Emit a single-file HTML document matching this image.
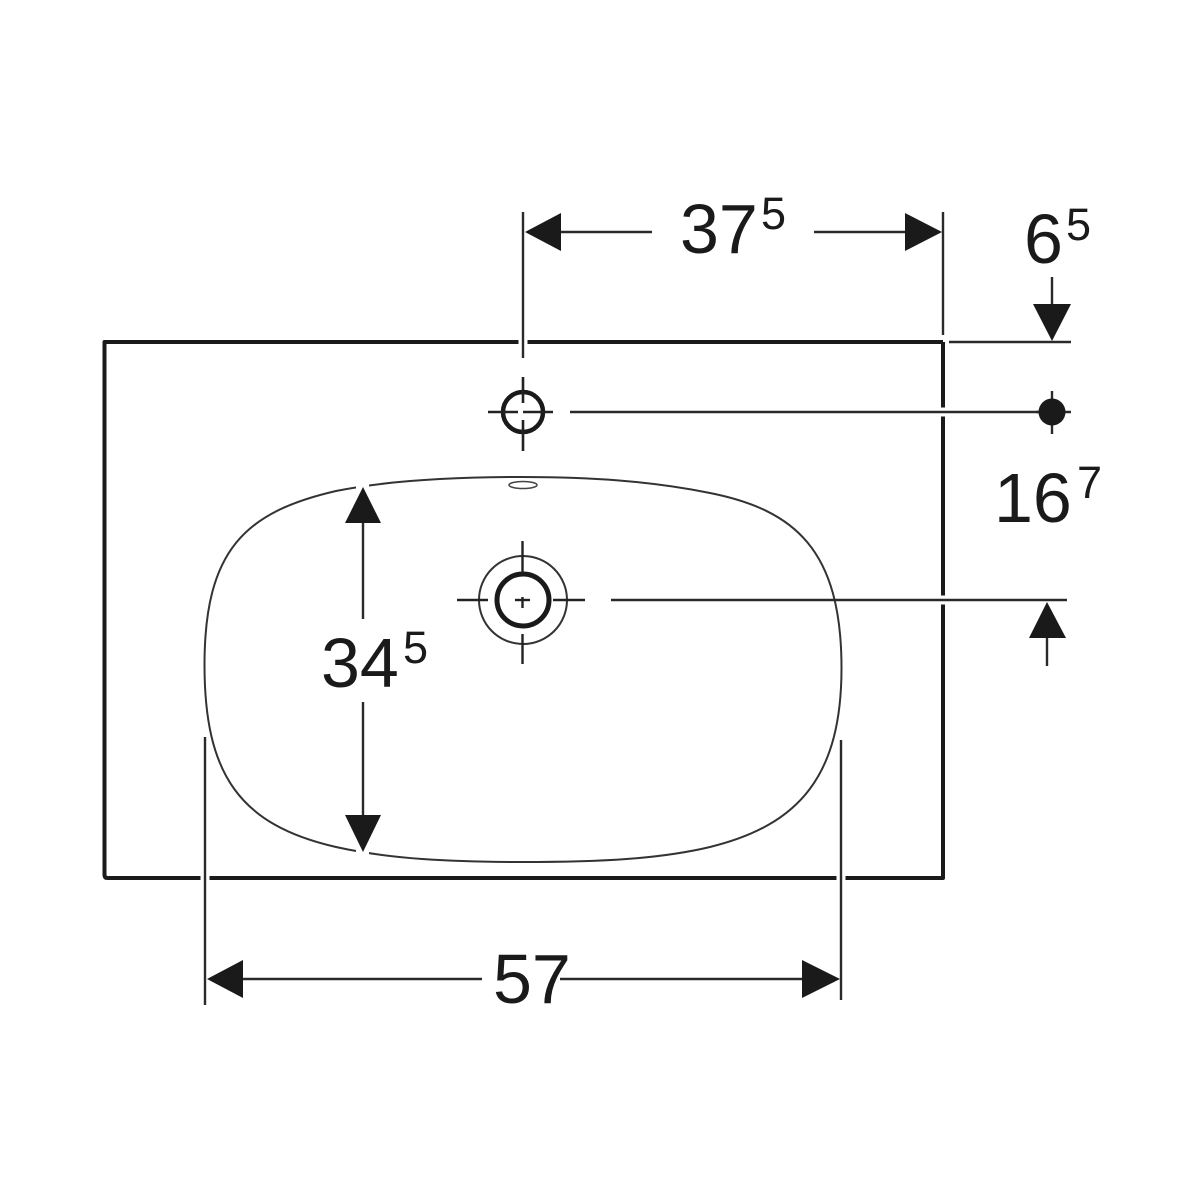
<!DOCTYPE html>
<html>
<head>
<meta charset="utf-8">
<style>
html,body{margin:0;padding:0;background:#fff;width:1200px;height:1200px;overflow:hidden}
svg{display:block}
text{font-family:"Liberation Sans",Arial,sans-serif;fill:#1a1a1a}
.b{font-size:70px}
.s{font-size:45px}
</style>
</head>
<body>
<svg width="1200" height="1200" viewBox="0 0 1200 1200" xmlns="http://www.w3.org/2000/svg">
<rect width="1200" height="1200" fill="#fff"/>
<!-- basin -->
<path d="M523 477 C590 477 650 481 710 493 C795 510 841.500 550 841.500 668 C841.500 775 800 825 710 847 C660 859 600 862 523 862 C450 862 390 859 336 847 C240 825 204.500 775 204.500 665 C204.500 550 245 512 336 491 C390 480 460 477 523 477 Z" fill="none" stroke="#333" stroke-width="2"/>
<ellipse cx="523" cy="485" rx="14" ry="3.500" fill="none" stroke="#444" stroke-width="1.500"/>
<!-- outer rect -->
<path d="M943 342 H104.500 V875 Q104.500 878 107.500 878 H943 V342" fill="none" stroke="#1a1a1a" stroke-width="4" stroke-linejoin="round"/>
<!-- gaps -->
<g stroke="#fff" fill="none">
<line x1="205" y1="872" x2="205" y2="884" stroke-width="9"/>
<line x1="841" y1="872" x2="841" y2="884" stroke-width="9"/>
<line x1="523" y1="336" x2="523" y2="348" stroke-width="9"/>
<line x1="937" y1="412" x2="949" y2="412" stroke-width="9"/>
<line x1="937" y1="600" x2="949" y2="600" stroke-width="9"/>
<line x1="356" y1="484" x2="369" y2="484" stroke-width="10"/>
<line x1="356" y1="855" x2="369" y2="855" stroke-width="10"/>
</g>
<!-- dimension lines -->
<g stroke="#2a2a2a" stroke-width="2.400" fill="none">
<line x1="523" y1="212" x2="523" y2="358"/>
<line x1="943" y1="212" x2="943" y2="335"/>
<line x1="555" y1="232" x2="652" y2="232"/>
<line x1="814" y1="232" x2="910" y2="232"/>
<line x1="949" y1="342" x2="1071" y2="342"/>
<line x1="1052" y1="277" x2="1052" y2="310"/>
<line x1="570" y1="412" x2="1040" y2="412"/>
<line x1="1036" y1="412" x2="1071" y2="412"/>
<line x1="1052" y1="391" x2="1052" y2="434"/>
<line x1="611" y1="600" x2="1067" y2="600"/>
<line x1="1047" y1="635" x2="1047" y2="666"/>
<line x1="363" y1="515" x2="363" y2="619"/>
<line x1="363" y1="702" x2="363" y2="820"/>
<line x1="205" y1="737" x2="205" y2="1005"/>
<line x1="841" y1="740" x2="841" y2="1000"/>
<line x1="240" y1="979" x2="482" y2="979"/>
<line x1="560" y1="979" x2="806" y2="979"/>
</g>
<!-- arrowheads -->
<g fill="#1a1a1a">
<polygon points="525,232 561,213 561,251"/>
<polygon points="942,232 905,213 905,251"/>
<polygon points="1052,341 1033,304 1071,304"/>
<polygon points="1047,602 1029,638 1066,638"/>
<polygon points="363,487 345,523 381,523"/>
<polygon points="363,852 345,815 381,815"/>
<polygon points="207,979 243,960 243,998"/>
<polygon points="840,979 802,960 802,998"/>
<circle cx="1052" cy="412" r="13.500"/>
</g>
<!-- tap hole -->
<circle cx="523" cy="412" r="20" fill="none" stroke="#1a1a1a" stroke-width="4.500"/>
<g stroke="#222" stroke-width="2.600" fill="none">
<line x1="523" y1="377" x2="523" y2="403"/>
<line x1="523" y1="420" x2="523" y2="451"/>
<line x1="488" y1="412" x2="518" y2="412"/>
<line x1="523" y1="412" x2="553" y2="412"/>
</g>
<!-- drain -->
<circle cx="523" cy="600" r="44" fill="none" stroke="#333" stroke-width="2"/>
<circle cx="523" cy="600" r="26" fill="none" stroke="#1a1a1a" stroke-width="5"/>
<g stroke="#222" stroke-width="2.400" fill="none">
<line x1="522.500" y1="541" x2="522.500" y2="573"/>
<line x1="522.500" y1="634" x2="522.500" y2="664"/>
<line x1="457" y1="600" x2="488" y2="600"/>
<line x1="553" y1="600" x2="585" y2="600"/>
<line x1="515" y1="600" x2="530" y2="600"/>
<line x1="522.500" y1="597" x2="522.500" y2="608"/>
</g>
<!-- labels -->
<text class="b" x="680" y="253">37</text>
<text class="s" x="761" y="229">5</text>
<text class="b" x="1024" y="263">6</text>
<text class="s" x="1066" y="240">5</text>
<text class="b" x="994" y="522">16</text>
<text class="s" x="1077" y="498">7</text>
<text class="b" x="321" y="687">34</text>
<text class="s" x="403" y="663">5</text>
<text class="b" x="493" y="1003">57</text>
</svg>
</body>
</html>
